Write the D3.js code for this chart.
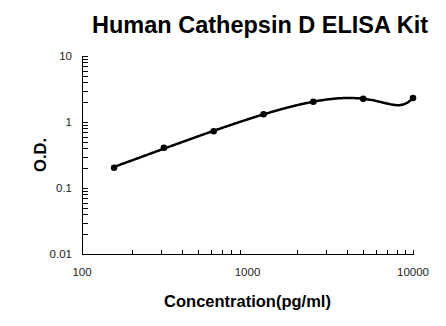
<!DOCTYPE html>
<html><head><meta charset="utf-8">
<script src="https://cdn.jsdelivr.net/npm/d3@7"></script>
<style>body{margin:0;background:#fff}text{font-family:"Liberation Sans",Arial,sans-serif}</style></head>
<body><svg id="c" width="446" height="326"></svg>
<script>
// Standard curve: concentration (pg/ml) vs optical density
const conc = [156.25, 312.5, 625, 1250, 2500, 5000, 10000];
const od = [0.203, 0.408, 0.723, 1.31, 2.03, 2.25, 2.31];
const xTicks = [100, 1000, 10000];
const yTicks = [0.01, 0.1, 1, 10];
const title = "Human Cathepsin D ELISA Kit";
const xTitle = "Concentration(pg/ml)";
const yTitle = "O.D.";
const fitDegree = 4;

const svg = d3.select("#c");
const m = {left: 82, right: 413, top: 56, bottom: 254};
const x = d3.scaleLog().domain([100, 10000]).range([m.left, m.right]);
const y = d3.scaleLog().domain([0.01, 10]).range([m.bottom, m.top]);

// least-squares polynomial fit of OD against concentration
function polyfit(xs, ys, deg) {
  const n = deg + 1, A = [...Array(n)].map(() => new Array(n + 1).fill(0));
  xs.forEach((xv, k) => {
    for (let i = 0; i < n; i++) {
      for (let j = 0; j < n; j++) A[i][j] += Math.pow(xv, i + j);
      A[i][n] += Math.pow(xv, i) * ys[k];
    }
  });
  for (let i = 0; i < n; i++) {
    let p = i;
    for (let r = i + 1; r < n; r++) if (Math.abs(A[r][i]) > Math.abs(A[p][i])) p = r;
    [A[i], A[p]] = [A[p], A[i]];
    for (let r = 0; r < n; r++) {
      if (r === i) continue;
      const f = A[r][i] / A[i][i];
      for (let c = i; c <= n; c++) A[r][c] -= f * A[i][c];
    }
  }
  const co = A.map((row, i) => row[n] / row[i]);
  return t => co.reduce((s, cv, i) => s + cv * Math.pow(t, i), 0);
}

// axes with inward ticks
const minorX = d3.range(2, 10).map(k => k * 100).concat(d3.range(2, 10).map(k => k * 1000), [10000]);
const minorY = [];
[0.01, 0.1, 1].forEach(d => d3.range(1, 10).forEach(k => minorY.push(d * k)));
minorY.push(10);

const ax = svg.append("g").attr("stroke", "#000").attr("stroke-width", 1).attr("shape-rendering", "crispEdges");
ax.append("line").attr("x1", m.left + 0.5).attr("x2", m.left + 0.5).attr("y1", m.top).attr("y2", m.bottom + 0.5);
ax.append("line").attr("x1", m.left).attr("x2", m.right + 0.5).attr("y1", m.bottom + 0.5).attr("y2", m.bottom + 0.5);
ax.selectAll(".ty").data(minorY).join("line")
  .attr("x1", m.left).attr("x2", m.left + 6)
  .attr("y1", d => Math.round(y(d)) + 0.5).attr("y2", d => Math.round(y(d)) + 0.5);
ax.selectAll(".tx").data(minorX).join("line")
  .attr("x1", d => Math.round(x(d)) + 0.5).attr("x2", d => Math.round(x(d)) + 0.5)
  .attr("y1", m.bottom).attr("y2", m.bottom - 4);

svg.append("g").selectAll("text").data(yTicks).join("text")
  .attr("x", m.left - 10).attr("y", d => y(d)).attr("dy", "0.35em")
  .attr("text-anchor", "end").attr("font-size", 11.5).attr("fill", "#222")
  .text(d => String(d));
svg.append("g").selectAll("text").data(xTicks).join("text")
  .attr("x", d => x(d)).attr("y", 276)
  .attr("text-anchor", "middle").attr("font-size", 11.5).attr("fill", "#222")
  .text(d => String(d));

// fitted curve
const f = polyfit(conc.map(c => c / 10000), od, fitDegree);
const lo = Math.log10(conc[0]), hi = Math.log10(conc[conc.length - 1]);
const curve = d3.range(0, 241).map(j => {
  const c = Math.pow(10, lo + j / 240 * (hi - lo));
  return [x(c), y(f(c / 10000))];
});
svg.append("path").attr("d", d3.line().curve(d3.curveBasis)(curve))
  .attr("fill", "none").attr("stroke", "#000").attr("stroke-width", 2.5);

svg.append("g").selectAll("circle").data(od).join("circle")
  .attr("cx", (d, i) => x(conc[i])).attr("cy", d => y(d)).attr("r", 3.3).attr("fill", "#000");

// titles
svg.append("text").attr("x", 260).attr("y", 33).attr("text-anchor", "middle")
  .attr("font-size", 23.5).attr("font-weight", "bold").attr("fill", "#000").text(title);
svg.append("text").attr("x", (m.left + m.right) / 2).attr("y", 307).attr("text-anchor", "middle")
  .attr("font-size", 16.5).attr("font-weight", "bold").attr("fill", "#000").text(xTitle);
svg.append("text").attr("transform", `translate(46,${(m.top + m.bottom) / 2}) rotate(-90)`)
  .attr("text-anchor", "middle").attr("font-size", 16.5).attr("font-weight", "bold").attr("fill", "#000").text(yTitle);
</script></body></html>
